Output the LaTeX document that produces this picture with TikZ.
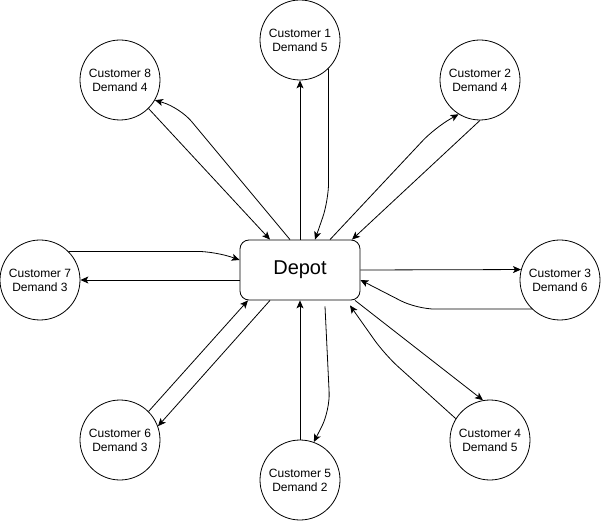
\documentclass[tikz,border=0pt]{standalone}
\usepackage{fontspec}
\setmainfont{Liberation Sans}
\usetikzlibrary{arrows.meta}

\begin{document}
\begin{tikzpicture} [x=1pt, y=1pt, align=center, line width=0.8pt,
  cust/.style={draw, circle, minimum size=80pt, inner sep=0pt, font=\fontsize{12}{14}\selectfont},
  depot/.style={draw, rounded corners=9pt, minimum width=120pt, minimum height=60pt, font=\fontsize{20}{24}\selectfont},
  route/.style={-{Stealth[length=8pt, width=7pt, inset=2pt]}},
  bent/.style={route, rounded corners=18pt}]
  \useasboundingbox (-300,-251) rectangle (301,270);
  \path  (0, 0)   node[depot](D)  {Depot}
          +(0,230)   node[cust](C1) {Customer 1\\Demand 5}
          +(180,190)   node[cust](C2) {Customer 2\\Demand 4}
          +(260,-10)   node[cust](C3) {Customer 3\\Demand 6}
          +(190,-170)   node[cust](C4) {Customer 4\\Demand 5}
          +(0,-210)   node[cust](C5) {Customer 5\\Demand 2}
          +(-180,-170)   node[cust](C6) {Customer 6\\Demand 3}
          +(-260,-10)   node[cust](C7) {Customer 7\\Demand 3}
          +(-180,190)   node[cust](C8) {Customer 8\\Demand 4};
    \draw [route] (D.north) to (C1.south);
    \draw [bent] (C1.-45) -- ++(0,-132) -- ([xshift=15pt]D.north);
    \draw [route] (C8.-45) to ([xshift=-30pt]D.north);
    \draw [bent] ([xshift=-10pt]D.north) -- ++(-110,132) -- (C8.-30);
    \draw [bent] ([xshift=30pt]D.north) -- ++(105,112) -- (C2.-122);
    \draw [route] (C2.south) to ([xshift=52pt]D.north);
    \draw [bent] (C7.45) -- ++(147,0) -- ([yshift=10pt]D.west);
    \draw [route] ([yshift=-10pt]D.west) to (C7.east);
    \draw [route] (D.east) to (C3.165.5);
    \draw [bent] (C3.226) -- ++(-115,0) -- ([yshift=-10pt]D.east);
    \draw [route] ([xshift=55pt]D.south) to (C4.100);
    \draw [bent] (C4.148) -- ++(-71,64) -- ([xshift=50pt,yshift=-5pt]D.south);
    \draw [bent] ([xshift=25pt,yshift=-6pt]D.south) -- ++(5,-104) -- (C5.70);
    \draw [route] (C5.north) to (D.south);
    \draw [route] (C6.45) to ([xshift=-52pt]D.south);
    \draw [route] ([xshift=-30pt]D.south) to (C6.20);

\end{tikzpicture}
\end{document}
